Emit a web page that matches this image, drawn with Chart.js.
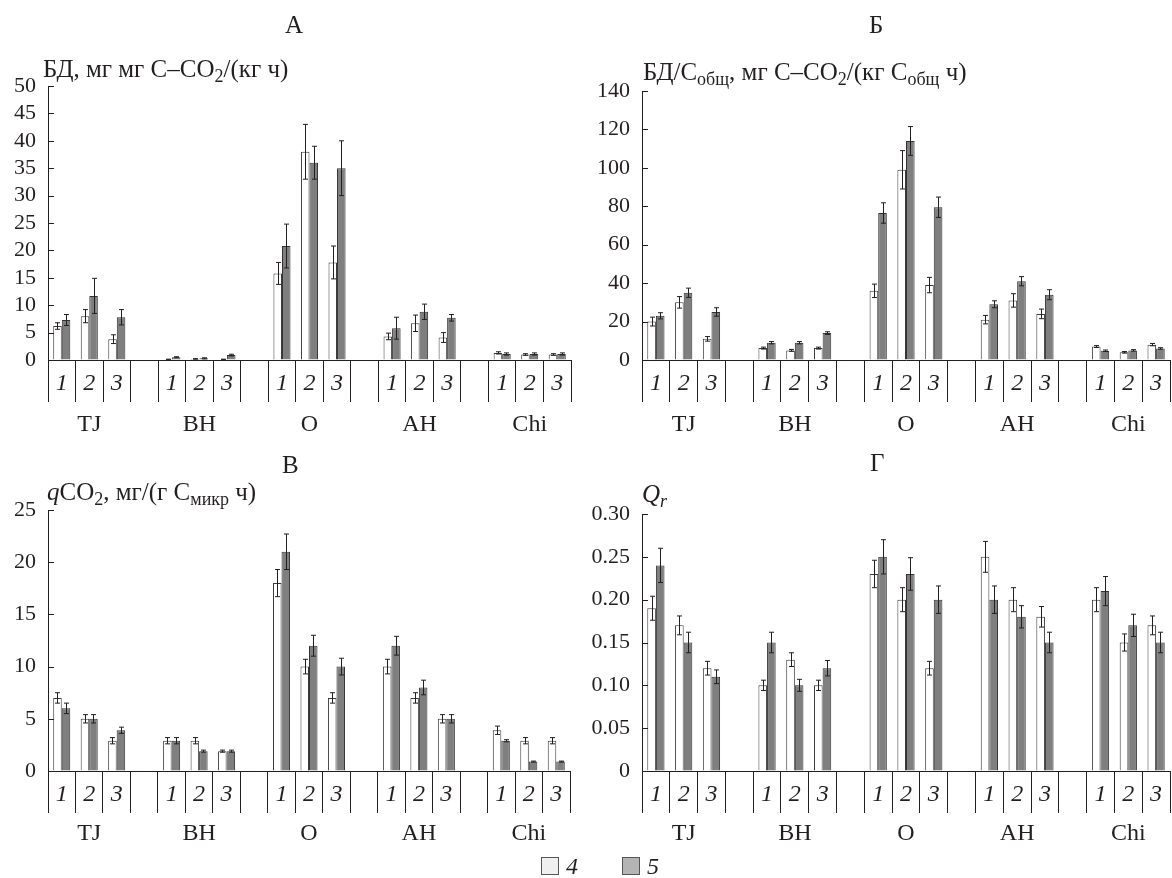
<!DOCTYPE html>
<html>
<head>
<meta charset="utf-8">
<script src="https://cdn.jsdelivr.net/npm/chart.js@4.4.1/dist/chart.umd.min.js"></script>
<style>
  body { margin: 0; background: #fff; width: 1172px; height: 878px; position: relative; overflow: hidden;
         font-family: "Liberation Serif", "Times New Roman", serif; color: #231f20; }
  canvas { position: absolute; }
  .txt { position: absolute; font-size: 25px; line-height: 28px; white-space: nowrap; }
  .txt sub { font-size: 18px; vertical-align: -5px; line-height: 0; }
  .box { position: absolute; width: 18px; height: 18px; border: 1px solid #555; box-sizing: border-box; }
</style>
</head>
<body>
<canvas id="cA" style="left:0;top:0" width="586" height="440"></canvas>
<canvas id="cB" style="left:586px;top:0" width="586" height="440"></canvas>
<canvas id="cC" style="left:0;top:440px" width="586" height="438"></canvas>
<canvas id="cD" style="left:586px;top:440px" width="586" height="438"></canvas>

<div class="txt" style="left:285px;top:11px">А</div>
<div class="txt" style="left:869px;top:11px">Б</div>
<div class="txt" style="left:282px;top:451px">В</div>
<div class="txt" style="left:870px;top:449px">Г</div>

<div class="txt" style="left:43px;top:55px">БД, мг мг C–CO<sub>2</sub>/(кг ч)</div>
<div class="txt" style="left:643px;top:58px">БД/C<sub>общ</sub>, мг C–CO<sub>2</sub>/(кг C<sub>общ</sub> ч)</div>
<div class="txt" style="left:47px;top:478px"><i>q</i>CO<sub>2</sub>, мг/(г C<sub>микр</sub> ч)</div>
<div class="txt" style="left:642px;top:480px"><i>Q<sub>r</sub></i></div>

<div class="box" style="left:541px;top:857px;background:#efefef"></div>
<div class="txt" style="left:566px;top:852px;font-size:24px"><i>4</i></div>
<div class="box" style="left:622px;top:857px;background:#b4b4b4"></div>
<div class="txt" style="left:647px;top:852px;font-size:24px"><i>5</i></div>

<script>
// categories
const groups = ["TJ", "BH", "O", "AH", "Chi"];
const subs = ["1", "2", "3"];

// А: БД
const bdWhite = [6.2, 8.0, 3.8, 0.1, 0.2, 0.1, 15.8, 38, 17.8, 4.3, 6.7, 4.1, 1.3, 1.0, 1.0];
const bdGray = [7.3, 11.7, 7.8, 0.5, 0.3, 0.9, 20.8, 36, 35, 5.8, 8.8, 7.7, 1.1, 1.1, 1.1];
const bdWhiteErr = [0.6, 1.2, 0.8, 0.05, 0.05, 0.05, 2, 5, 3, 0.6, 1.5, 0.9, 0.2, 0.15, 0.15];
const bdGrayErr = [1, 3.2, 1.4, 0.1, 0.1, 0.15, 4, 3, 5, 2, 1.4, 0.6, 0.2, 0.2, 0.2];

// Б: БД/Cобщ
const bdcWhite = [20, 30, 11, 6.2, 5, 6.2, 36, 99, 39, 21, 31, 24, 7, 4, 8];
const bdcGray = [23, 35, 25, 9, 9, 14, 76.5, 114, 79.5, 29, 41, 34, 4.8, 5, 6];
const bdcWhiteErr = [2.3, 3, 1.2, 0.5, 0.5, 0.5, 3.5, 10, 4, 2.2, 3.5, 2.5, 0.5, 0.4, 0.6];
const bdcGrayErr = [1.6, 2.4, 2.2, 0.6, 0.6, 0.7, 5.3, 7.5, 5.3, 1.8, 2.4, 2.6, 0.4, 0.4, 0.4];

// В: qCO2
const qWhite = [7, 5, 2.9, 2.9, 2.9, 1.9, 18, 10, 7, 10, 7, 5, 3.9, 2.9, 2.9];
const qGray = [6, 5, 3.9, 2.9, 1.9, 1.9, 21, 12, 10, 12, 8, 5, 2.9, 0.9, 0.9];
const qWhiteErr = [0.5, 0.4, 0.3, 0.3, 0.3, 0.1, 1.3, 0.7, 0.5, 0.7, 0.5, 0.4, 0.4, 0.3, 0.3];
const qGrayErr = [0.5, 0.4, 0.3, 0.3, 0.1, 0.1, 1.7, 1, 0.8, 0.9, 0.7, 0.4, 0.1, 0.05, 0.05];

// Г: Qr
const qrWhite = [0.19, 0.17, 0.12, 0.10, 0.13, 0.10, 0.23, 0.20, 0.12, 0.25, 0.20, 0.18, 0.20, 0.15, 0.17];
const qrGray = [0.24, 0.15, 0.11, 0.15, 0.10, 0.12, 0.25, 0.23, 0.20, 0.20, 0.18, 0.15, 0.21, 0.17, 0.15];
const qrWhiteErr = [0.014, 0.011, 0.008, 0.006, 0.008, 0.006, 0.016, 0.014, 0.008, 0.018, 0.014, 0.012, 0.014, 0.01, 0.011];
const qrGrayErr = [0.02, 0.012, 0.008, 0.012, 0.007, 0.009, 0.02, 0.019, 0.016, 0.016, 0.013, 0.012, 0.017, 0.013, 0.012];

const FONT = '"Liberation Serif", "Times New Roman", serif';
const INK = "#231f20";

// 3 bars per group plus an empty slot between groups
const slotLabels = [];
groups.forEach((g, i) => {
  subs.forEach(s => slotLabels.push(s));
  if (i < groups.length - 1) slotLabels.push("");
});
function toSlots(arr) {
  const out = [];
  groups.forEach((g, i) => {
    for (let k = 0; k < subs.length; k++) out.push(arr[i * subs.length + k]);
    if (i < groups.length - 1) out.push(null);
  });
  return out;
}

const errorBars = {
  id: "errorBars",
  afterDatasetsDraw(chart) {
    const ctx = chart.ctx;
    const y = chart.scales.y;
    ctx.save();
    ctx.strokeStyle = INK;
    ctx.lineWidth = 1;
    chart.data.datasets.forEach((ds, di) => {
      chart.getDatasetMeta(di).data.forEach((bar, j) => {
        const v = ds.data[j], e = ds.err[j];
        if (v == null || !e) return;
        const x = Math.round(bar.x) + 0.5;
        const top = y.getPixelForValue(v + e);
        const bot = y.getPixelForValue(Math.max(0, v - e));
        ctx.beginPath();
        ctx.moveTo(x, top); ctx.lineTo(x, bot);
        ctx.moveTo(x - 2.5, top); ctx.lineTo(x + 2.5, top);
        ctx.moveTo(x - 2.5, bot); ctx.lineTo(x + 2.5, bot);
        ctx.stroke();
      });
    });
    ctx.restore();
  }
};

// inward y ticks and group names under the axis
const axisExtras = {
  id: "axisExtras",
  afterDraw(chart) {
    const ctx = chart.ctx;
    const y = chart.scales.y, x = chart.scales.x;
    const left = chart.chartArea.left;
    ctx.save();
    ctx.strokeStyle = INK;
    ctx.lineWidth = 1;
    y.ticks.forEach((t, i) => {
      const py = Math.round(y.getPixelForTick(i)) + 0.5;
      ctx.beginPath();
      ctx.moveTo(left, py); ctx.lineTo(left + 6, py);
      ctx.stroke();
    });
    ctx.fillStyle = INK;
    ctx.font = "24px " + FONT;
    ctx.textAlign = "center";
    ctx.textBaseline = "middle";
    groups.forEach((g, i) => {
      ctx.fillText(g, x.getPixelForValue(i * 4 + 1), chart.chartArea.bottom + chart.options.groupOffset);
    });
    ctx.restore();
  }
};

function makeChart(id, white, gray, whiteErr, grayErr, yMax, step, area, fmt) {
  const canvas = document.getElementById(id);
  return new Chart(canvas, {
    type: "bar",
    data: {
      labels: slotLabels,
      datasets: [
        { label: "4", data: toSlots(white), err: toSlots(whiteErr), backgroundColor: "#ffffff", borderColor: "#3a3a3a", borderWidth: 1 },
        { label: "5", data: toSlots(gray), err: toSlots(grayErr), backgroundColor: "#7f7f7f", borderColor: "#333333", borderWidth: 1 }
      ]
    },
    options: {
      responsive: false,
      animation: false,
      groupOffset: area.group,
      layout: { padding: { left: 0, top: area.top, right: canvas.width - area.right, bottom: canvas.height - area.zero - 42 } },
      plugins: { legend: { display: false }, tooltip: { enabled: false } },
      datasets: { bar: { categoryPercentage: 0.62, barPercentage: 1.0, skipNull: false } },
      scales: {
        x: {
          afterFit(s) { s.height = 42; },
          border: { display: true, color: INK, width: 1 },
          grid: { offset: true, drawOnChartArea: false, tickLength: 42, color: INK, lineWidth: 1 },
          ticks: { autoSkip: false, maxRotation: 0, padding: -33, color: INK, font: { family: FONT, size: 24, style: "italic" } }
        },
        y: {
          min: 0, max: yMax,
          afterFit(s) { s.width = area.left; },
          border: { display: true, color: INK, width: 1 },
          grid: { display: true, drawOnChartArea: false, drawTicks: false },
          ticks: { stepSize: step, autoSkip: false, padding: 12, color: INK, font: { family: FONT, size: 22 }, callback: fmt || (v => v) }
        }
      }
    },
    plugins: [errorBars, axisExtras]
  });
}

makeChart("cA", bdWhite, bdGray, bdWhiteErr, bdGrayErr, 50, 5, { left: 48, right: 571, top: 86, zero: 360, group: 65 });
makeChart("cB", bdcWhite, bdcGray, bdcWhiteErr, bdcGrayErr, 140, 20, { left: 56, right: 584, top: 91, zero: 360, group: 65 });
makeChart("cC", qWhite, qGray, qWhiteErr, qGrayErr, 25, 5, { left: 48, right: 570, top: 70, zero: 331, group: 63 });
makeChart("cD", qrWhite, qrGray, qrWhiteErr, qrGrayErr, 0.30, 0.05, { left: 56, right: 584, top: 74, zero: 331, group: 63 },
  v => v === 0 ? "0" : v.toFixed(2));
</script>
</body>
</html>
